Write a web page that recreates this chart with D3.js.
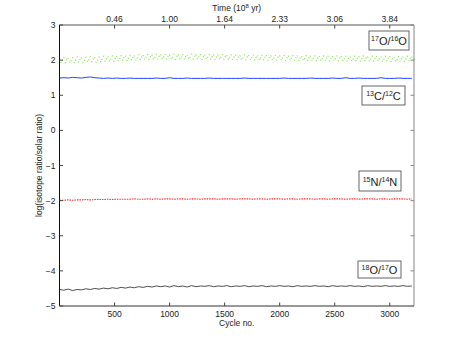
<!DOCTYPE html>
<html>
<head>
<meta charset="utf-8">
<script src="https://cdn.jsdelivr.net/npm/d3@7"></script>
<style>
  body { margin: 0; background: #fff; }
  text { font-family: "Liberation Sans", Arial, sans-serif; fill: #222; }
</style>
</head>
<body>
<div id="chart"></div>
<script>
'use strict';

// cycle numbers, one sample every 40 cycles
const cycles = [
  0, 40, 80, 120, 160, 200, 240, 280, 320, 360,
  400, 440, 480, 520, 560, 600, 640, 680, 720, 760,
  800, 840, 880, 920, 960, 1000, 1040, 1080, 1120, 1160,
  1200, 1240, 1280, 1320, 1360, 1400, 1440, 1480, 1520, 1560,
  1600, 1640, 1680, 1720, 1760, 1800, 1840, 1880, 1920, 1960,
  2000, 2040, 2080, 2120, 2160, 2200, 2240, 2280, 2320, 2360,
  2400, 2440, 2480, 2520, 2560, 2600, 2640, 2680, 2720, 2760,
  2800, 2840, 2880, 2920, 2960, 3000, 3040, 3080, 3120, 3160, 3200
];

// 17O/16O band (upper, lower, middle points)
const o17Upper = [
  2.06, 2.08, 2.05, 2.07, 2.09, 2.06, 2.08, 2.10, 2.07, 2.09,
  2.11, 2.09, 2.12, 2.10, 2.13, 2.11, 2.14, 2.12, 2.15, 2.13,
  2.16, 2.14, 2.17, 2.15, 2.16, 2.14, 2.17, 2.15, 2.16, 2.14,
  2.17, 2.15, 2.16, 2.14, 2.16, 2.15, 2.14, 2.16, 2.13, 2.15,
  2.14, 2.12, 2.15, 2.13, 2.14, 2.12, 2.14, 2.13, 2.12, 2.14,
  2.12, 2.13, 2.11, 2.13, 2.12, 2.10, 2.13, 2.11, 2.12, 2.10,
  2.12, 2.11, 2.10, 2.12, 2.10, 2.11, 2.09, 2.11, 2.10, 2.12,
  2.09, 2.11, 2.10, 2.09, 2.11, 2.10, 2.08, 2.10, 2.09, 2.11, 2.09
];
const o17Lower = [
  1.93, 1.92, 1.94, 1.93, 1.95, 1.94, 1.96, 1.95, 1.94, 1.96,
  1.97, 1.98, 1.97, 1.99, 2.00, 1.99, 2.01, 2.00, 2.02, 2.03,
  2.02, 2.04, 2.03, 2.05, 2.03, 2.04, 2.02, 2.04, 2.03, 2.05,
  2.03, 2.04, 2.02, 2.04, 2.03, 2.02, 2.04, 2.01, 2.03, 2.02,
  2.01, 2.03, 2.01, 2.02, 2.00, 2.02, 2.01, 2.00, 2.02, 2.00,
  2.01, 1.99, 2.01, 2.00, 1.99, 2.01, 1.99, 2.00, 1.98, 2.00,
  1.99, 1.98, 2.00, 1.98, 1.99, 1.97, 1.99, 1.98, 1.97, 1.99,
  1.98, 1.97, 1.99, 1.97, 1.98, 1.96, 1.98, 1.97, 1.96, 1.98, 1.97
];
const o17Mid = [
  1.99, 2.01, 1.98, 2.00, 2.02, 1.99, 2.01, 2.03, 2.00, 2.02,
  2.04, 2.03, 2.05, 2.04, 2.07, 2.05, 2.08, 2.06, 2.09, 2.08,
  2.10, 2.08, 2.11, 2.09, 2.10, 2.08, 2.11, 2.09, 2.10, 2.08,
  2.11, 2.09, 2.10, 2.08, 2.10, 2.09, 2.08, 2.10, 2.07, 2.09,
  2.08, 2.06, 2.09, 2.07, 2.08, 2.06, 2.08, 2.07, 2.06, 2.08,
  2.06, 2.07, 2.05, 2.07, 2.06, 2.04, 2.07, 2.05, 2.06, 2.04,
  2.06, 2.05, 2.04, 2.06, 2.04, 2.05, 2.03, 2.05, 2.04, 2.06,
  2.03, 2.05, 2.04, 2.03, 2.05, 2.04, 2.02, 2.04, 2.03, 2.05, 2.03
];

const c13 = [
  1.49, 1.50, 1.49, 1.51, 1.50, 1.49, 1.51, 1.52, 1.50, 1.49,
  1.48, 1.49, 1.48, 1.49, 1.48, 1.48, 1.49, 1.48, 1.48, 1.48,
  1.48, 1.48, 1.49, 1.48, 1.48, 1.50, 1.48, 1.48, 1.48, 1.49,
  1.48, 1.48, 1.48, 1.48, 1.49, 1.48, 1.48, 1.48, 1.48, 1.48,
  1.48, 1.48, 1.49, 1.48, 1.48, 1.48, 1.48, 1.48, 1.48, 1.48,
  1.48, 1.49, 1.48, 1.48, 1.48, 1.48, 1.48, 1.49, 1.48, 1.48,
  1.48, 1.48, 1.49, 1.48, 1.48, 1.50, 1.48, 1.48, 1.49, 1.48,
  1.48, 1.48, 1.48, 1.50, 1.48, 1.48, 1.48, 1.49, 1.48, 1.48, 1.48
];

const n15 = [
  -1.99, -1.99, -1.98, -1.99, -1.98, -1.98, -1.97, -1.98, -1.97, -1.97,
  -1.97, -1.96, -1.97, -1.96, -1.96, -1.96, -1.96, -1.95, -1.96, -1.96,
  -1.95, -1.96, -1.95, -1.96, -1.95, -1.95, -1.96, -1.95, -1.95, -1.96,
  -1.95, -1.95, -1.96, -1.95, -1.95, -1.95, -1.96, -1.95, -1.95, -1.95,
  -1.96, -1.95, -1.95, -1.95, -1.96, -1.95, -1.95, -1.96, -1.95, -1.95,
  -1.95, -1.96, -1.95, -1.95, -1.96, -1.95, -1.95, -1.95, -1.96, -1.95,
  -1.95, -1.96, -1.95, -1.95, -1.95, -1.96, -1.95, -1.95, -1.96, -1.95,
  -1.95, -1.95, -1.96, -1.95, -1.95, -1.96, -1.95, -1.95, -1.95, -1.96, -1.95
];

const o18 = [
  -4.53, -4.55, -4.52, -4.56, -4.53, -4.54, -4.51, -4.53, -4.50, -4.52,
  -4.49, -4.51, -4.48, -4.50, -4.47, -4.49, -4.46, -4.48, -4.45, -4.47,
  -4.44, -4.46, -4.43, -4.45, -4.43, -4.46, -4.42, -4.45, -4.43, -4.46,
  -4.42, -4.45, -4.43, -4.44, -4.42, -4.45, -4.43, -4.44, -4.42, -4.45,
  -4.43, -4.44, -4.42, -4.45, -4.43, -4.44, -4.42, -4.45, -4.43, -4.44,
  -4.42, -4.44, -4.43, -4.45, -4.42, -4.44, -4.43, -4.44, -4.42, -4.44,
  -4.43, -4.45, -4.42, -4.44, -4.43, -4.44, -4.42, -4.44, -4.43, -4.45,
  -4.42, -4.44, -4.43, -4.44, -4.42, -4.44, -4.43, -4.44, -4.42, -4.44, -4.43
];

const cycleTicks = [500, 1000, 1500, 2000, 2500, 3000];
const timeLabels = ['0.46', '1.00', '1.64', '2.33', '3.06', '3.84'];
const yTicks = [-5, -4, -3, -2, -1, 0, 1, 2, 3];

const width = 458, height = 344;
const margin = { top: 25, right: 44, bottom: 38, left: 59.5 };

const svg = d3.select('#chart').append('svg')
  .attr('width', width)
  .attr('height', height);

const x = d3.scaleLinear().domain([0, 3220]).range([margin.left, width - margin.right]);
const y = d3.scaleLinear().domain([-5, 3]).range([height - margin.bottom, margin.top]);

const pts = vals => cycles.map((c, i) => [c, vals[i]]);

// green 17O/16O dots, each band row drawn a little staggered so it reads as a haze
const greenG = svg.append('g');
[o17Upper, o17Lower, o17Mid].forEach((vals, k) => {
  greenG.selectAll(null)
    .data(pts(vals))
    .enter().append('rect')
    .attr('x', d => x(d[0] + k * 13) - 0.6)
    .attr('y', d => y(d[1]) - 0.6)
    .attr('width', 1.2)
    .attr('height', 1.2)
    .attr('fill', '#93e865');
});

const line = d3.line().x(d => x(d[0])).y(d => y(d[1]));

svg.append('path')
  .attr('d', line(pts(c13)))
  .attr('fill', 'none')
  .attr('stroke', '#2244ff')
  .attr('stroke-width', 1);

svg.append('path')
  .attr('d', line(pts(n15)))
  .attr('fill', 'none')
  .attr('stroke', '#ff2a2a')
  .attr('stroke-width', 1.1)
  .attr('stroke-dasharray', '1.5,1');

svg.append('path')
  .attr('d', line(pts(o18)))
  .attr('fill', 'none')
  .attr('stroke', '#222')
  .attr('stroke-width', 0.8);

// axes, ticks inside like matlab
const x0 = margin.left, x1 = width - margin.right;
const y0 = height - margin.bottom, y1 = margin.top;
const tk = 3.5;

const axes = svg.append('g').attr('stroke-width', 1);
axes.append('line').attr('x1', x0).attr('x2', x1).attr('y1', y1).attr('y2', y1).attr('stroke', '#555');
axes.append('line').attr('x1', x1).attr('x2', x1).attr('y1', y1).attr('y2', y0).attr('stroke', '#888');
axes.append('line').attr('x1', x0).attr('x2', x1).attr('y1', y0).attr('y2', y0).attr('stroke', '#333');
axes.append('line').attr('x1', x0).attr('x2', x0).attr('y1', y1).attr('y2', y0).attr('stroke', '#111');

cycleTicks.forEach((t, i) => {
  axes.append('line').attr('x1', x(t)).attr('x2', x(t)).attr('y1', y0).attr('y2', y0 - tk).attr('stroke', '#444');
  axes.append('line').attr('x1', x(t)).attr('x2', x(t)).attr('y1', y1).attr('y2', y1 + tk).attr('stroke', '#444');
  svg.append('text').attr('x', x(t)).attr('y', y0 + 10.5)
    .attr('text-anchor', 'middle').attr('font-size', 8.5).text(t);
  svg.append('text').attr('x', x(t)).attr('y', y1 - 3.5)
    .attr('text-anchor', 'middle').attr('font-size', 8.5).text(timeLabels[i]);
});

yTicks.forEach(t => {
  axes.append('line').attr('x1', x0).attr('x2', x0 + tk).attr('y1', y(t)).attr('y2', y(t)).attr('stroke', '#444');
  axes.append('line').attr('x1', x1).attr('x2', x1 - tk).attr('y1', y(t)).attr('y2', y(t)).attr('stroke', '#888');
  svg.append('text').attr('x', x0 - 4).attr('y', y(t) + 3)
    .attr('text-anchor', 'end').attr('font-size', 8.5)
    .text(t < 0 ? '\u2212' + Math.abs(t) : t);
});

svg.append('text').attr('x', (x0 + x1) / 2).attr('y', y0 + 20)
  .attr('text-anchor', 'middle').attr('font-size', 8.5).text('Cycle no.');

const timeTitle = svg.append('text').attr('x', (x0 + x1) / 2).attr('y', 10.5)
  .attr('text-anchor', 'middle').attr('font-size', 8.5);
timeTitle.append('tspan').text('Time (10');
timeTitle.append('tspan').attr('font-size', 6).attr('dy', -3).text('8');
timeTitle.append('tspan').attr('dy', 3).text(' yr)');

svg.append('text')
  .attr('transform', `translate(${x0 - 18},${(y0 + y1) / 2}) rotate(-90)`)
  .attr('text-anchor', 'middle').attr('font-size', 8.5)
  .text('log(isotope ratio/solar ratio)');

// labels in boxes
const boxes = [
  { a: '17', b: 'O/', c: '16', d: 'O', x: 369, y: 31, w: 40, h: 19 },
  { a: '13', b: 'C/', c: '12', d: 'C', x: 362, y: 86, w: 43, h: 19 },
  { a: '15', b: 'N/', c: '14', d: 'N', x: 359, y: 171, w: 42, h: 20 },
  { a: '18', b: 'O/', c: '17', d: 'O', x: 358, y: 261, w: 43, h: 17 }
];

boxes.forEach(bx => {
  svg.append('rect').attr('x', bx.x).attr('y', bx.y).attr('width', bx.w).attr('height', bx.h)
    .attr('fill', '#fff').attr('stroke', '#555').attr('stroke-width', 0.9);
  const t = svg.append('text').attr('x', bx.x + bx.w / 2).attr('y', bx.y + bx.h / 2 + 4.5)
    .attr('text-anchor', 'middle').attr('font-size', 11);
  t.append('tspan').attr('font-size', 7).attr('dy', -4).text(bx.a);
  t.append('tspan').attr('dy', 4).text(bx.b);
  t.append('tspan').attr('font-size', 7).attr('dy', -4).text(bx.c);
  t.append('tspan').attr('dy', 4).text(bx.d);
});
</script>
</body>
</html>
